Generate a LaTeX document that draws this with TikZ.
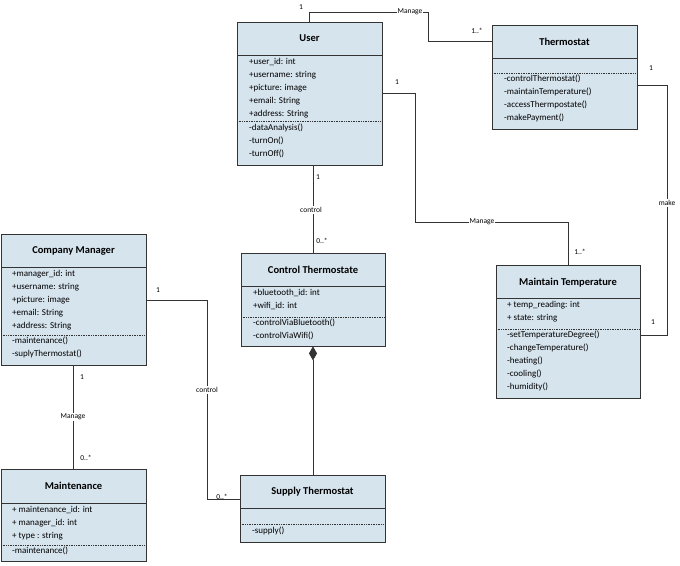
\documentclass[tikz,border=0pt]{standalone}
\usepackage{fontspec}
\setmainfont{Carlito}
\usetikzlibrary{arrows.meta}
\definecolor{clsblue}{HTML}{D6E4EE}
\begin{document}
\begin{tikzpicture}[x=1pt,y=-1pt,
    cls/.style={draw=black!80,fill=clsblue,line width=0.8pt,inner sep=0pt},
    title/.style={font=\fontsize{10.5}{12}\selectfont\bfseries},
    items/.style={anchor=north west,align=left,inner sep=0pt,font=\fontsize{9}{13}\selectfont},
    lab/.style={font=\fontsize{7.5}{9}\selectfont,inner sep=1pt},
    wire/.style={draw=black!80,line width=0.7pt},
    sep/.style={draw=black!80,densely dotted,line width=0.7pt},
  ]
  \useasboundingbox[fill=white] (0,0) rectangle (680,565);

  % classes
  \node[cls,minimum width=145pt,minimum height=143pt] (user) at (309.5,93.5) {};
  \draw[black!80,line width=0.8pt] (237,55)--(382,55);
  \draw[sep] (237,121)--(382,121);
  \node[title] (userT) at (309.5,38.5) {User};
  \node[items] (userA) at (249,58) {+user\_id: int\\+username: string\\+picture: image\\+email: String\\+address: String};
  \node[items] (userM) at (249,124) {-dataAnalysis()\\-turnOn()\\-turnOff()};

  \node[cls,minimum width=145pt,minimum height=104pt] (thermo) at (564.5,77) {};
  \draw[black!80,line width=0.8pt] (492,58)--(637,58);
  \draw[sep] (492,73)--(637,73);
  \node[title] (thermoT) at (564.5,41.5) {Thermostat};
  \node[items] (thermoM) at (504,75) {-controlThermostat()\\-maintainTemperature()\\-accessThermpostate()\\-makePayment()};

  \node[cls,minimum width=145pt,minimum height=131pt] (manager) at (73.5,299.5) {};
  \draw[black!80,line width=0.8pt] (1,267)--(146,267);
  \draw[sep] (1,335)--(146,335);
  \node[title] (managerT) at (73.5,250.5) {Company Manager};
  \node[items] (managerA) at (12,270) {+manager\_id: int\\+username: string\\+picture: image\\+email: String\\+address: String};
  \node[items] (managerM) at (12,337) {-maintenance()\\-suplyThermostat()};

  \node[cls,minimum width=144pt,minimum height=93pt] (control) at (313,299.5) {};
  \draw[black!80,line width=0.8pt] (241,286)--(385,286);
  \draw[sep] (241,317)--(385,317);
  \node[title] (controlT) at (313,269.5) {Control Thermostate};
  \node[items] (controlA) at (253,289) {+bluetooth\_id: int\\+wifi\_id: int};
  \node[items] (controlM) at (253,319) {-controlViaBluetooth()\\-controlViaWifi()};

  \node[cls,minimum width=144pt,minimum height=133pt] (maintain) at (568,331.5) {};
  \draw[black!80,line width=0.8pt] (496,298)--(640,298);
  \draw[sep] (496,329)--(640,329);
  \node[title] (maintainT) at (568,282.5) {Maintain Temperature};
  \node[items] (maintainA) at (507,301) {+ temp\_reading: int\\+ state: string};
  \node[items] (maintainM) at (507,331) {-setTemperatureDegree()\\-changeTemperature()\\-heating()\\-cooling()\\-humidity()};

  \node[cls,minimum width=145pt,minimum height=92pt] (maint) at (73.5,515) {};
  \draw[black!80,line width=0.8pt] (1,503)--(146,503);
  \draw[sep] (1,545)--(146,545);
  \node[title] (maintT) at (73.5,486) {Maintenance};
  \node[items] (maintA) at (12,506) {+ maintenance\_id: int\\+ manager\_id: int\\+ type : string};
  \node[items] (maintM) at (12,547) {-maintenance()};

  \node[cls,minimum width=145pt,minimum height=67pt] (supply) at (312.5,508.5) {};
  \draw[black!80,line width=0.8pt] (240,508)--(385,508);
  \draw[sep] (240,524)--(385,524);
  \node[title] (supplyT) at (312.5,491.5) {Supply Thermostat};
  \node[items] (supplyM) at (252,527) {-supply()};

  % connectors
  \coordinate (mgA) at (428,12);
  \draw[wire] (user.north) |- (mgA) |- (thermo.west |- thermoT);
  \node[lab,fill=white] at (410,12) {Manage};
  \node[lab] at (301,7) {1};
  \node[lab] at (477,31) {1..*};

  \coordinate (mgB) at (415,222);
  \draw[wire] (user.east |- 0,93) -| (mgB) -| (maintain.north);
  \node[lab,fill=white] at (482,222) {Manage};
  \node[lab] at (397,82) {1};
  \node[lab] at (580,252) {1..*};

  \coordinate (mk) at (667,85);
  \draw[wire] (thermo.east |- mk) -- (mk) |- (maintain.east |- 0,335);
  \node[lab,fill=white] at (667,203) {make};
  \node[lab] at (651,68) {1};
  \node[lab] at (653,322) {1};

  \draw[wire] (user.south -| control.north) -- (control.north);
  \node[lab,fill=white] at (311,210) {control};
  \node[lab] at (318,177) {1};
  \node[lab] at (322,241) {0..*};

  \coordinate (ct) at (207,300);
  \draw[wire] (manager.east |- ct) -- (ct) |- (supply.west |- supplyT.south);
  \node[lab,fill=white] at (207,390) {control};
  \node[lab] at (158,290) {1};
  \node[lab] at (222,497) {0..*};

  \draw[wire] (manager.south) -- (maint.north);
  \node[lab,fill=white] at (73,417) {Manage};
  \node[lab] at (82,377) {1};
  \node[lab] at (86,458) {0..*};

  \draw[wire,{Diamond[length=14pt,width=8pt]}-] (control.south) -- (control.south |- supply.north);
\end{tikzpicture}
\end{document}
